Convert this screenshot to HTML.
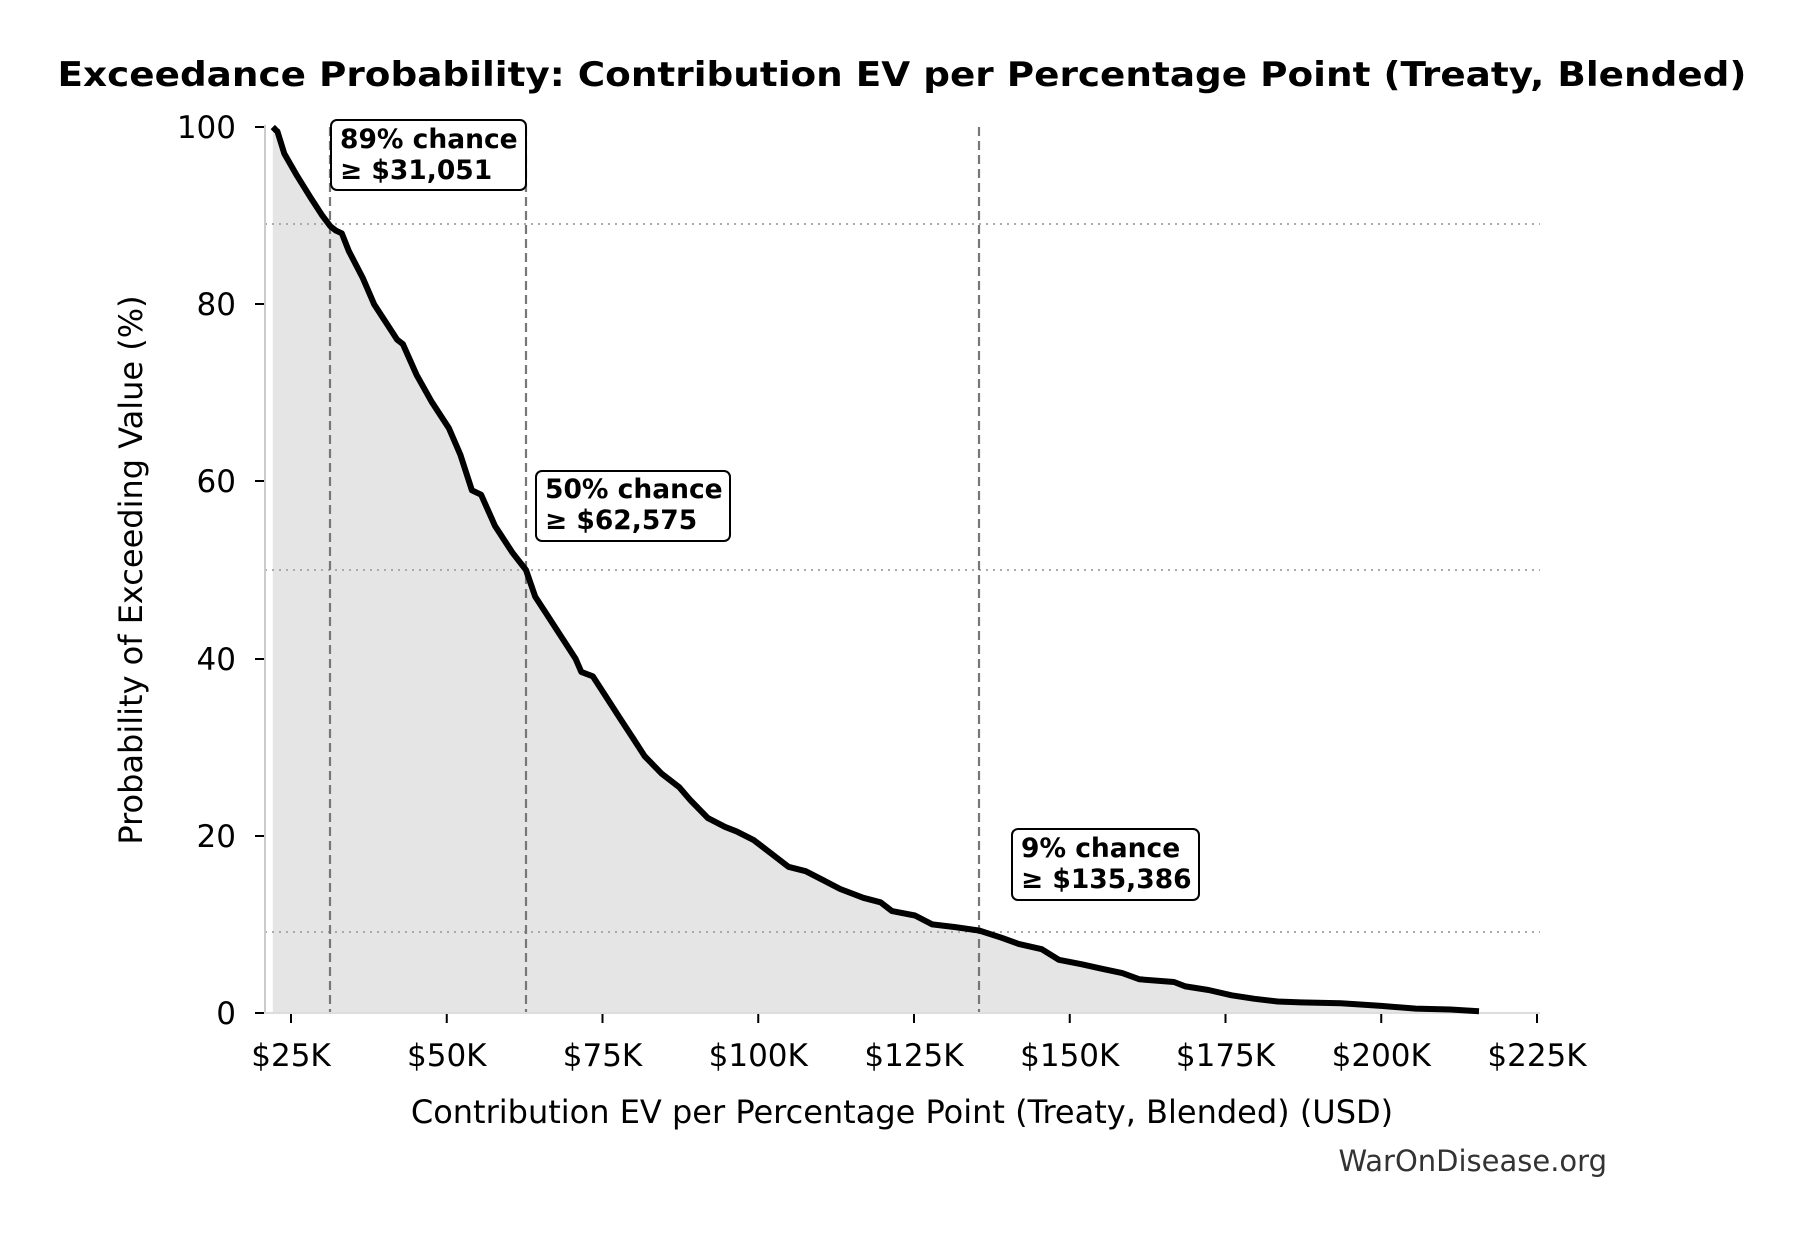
<!DOCTYPE html>
<html><head><meta charset="utf-8"><style>
html,body{margin:0;padding:0;background:#fff;}
svg{display:block;font-family:"DejaVu Sans","Liberation Sans",sans-serif;}
</style></head><body>
<svg id="s" width="1805" height="1234" viewBox="0 0 1805 1234" xmlns="http://www.w3.org/2000/svg">
<rect width="1805" height="1234" fill="#fff"/>
<text x="902" y="86" text-anchor="middle" font-size="34" font-weight="bold" textLength="1689" lengthAdjust="spacingAndGlyphs">Exceedance Probability: Contribution EV per Percentage Point (Treaty, Blended)</text>
<path id="fill" fill="#e5e5e5" d=""/>
<g stroke="#aaa" stroke-width="2" stroke-dasharray="2,5">
<line x1="265" y1="224" x2="1540" y2="224"/>
<line x1="265" y1="570" x2="1540" y2="570"/>
<line x1="265" y1="932" x2="1540" y2="932"/>
</g>
<g stroke="#777" stroke-width="2.2" stroke-dasharray="9,5">
<line x1="330" y1="127" x2="330" y2="1013"/>
<line x1="526" y1="127" x2="526" y2="1013"/>
<line x1="979" y1="127" x2="979" y2="1013"/>
</g>
<line x1="265" y1="125" x2="265" y2="1014" stroke="#ccc" stroke-width="2"/>
<line x1="264" y1="1013" x2="1540" y2="1013" stroke="#ddd" stroke-width="2"/>
<path id="curve" fill="none" stroke="#000" stroke-width="6" stroke-linejoin="round" d=""/>
<g font-size="31" text-anchor="end">
<text x="236" y="138">100</text><text x="236" y="315">80</text><text x="236" y="492">60</text>
<text x="236" y="670">40</text><text x="236" y="847">20</text><text x="236" y="1024">0</text>
</g>
<g stroke="#000" stroke-width="2">
<line x1="255" y1="127" x2="264" y2="127"/><line x1="255" y1="304" x2="264" y2="304"/>
<line x1="255" y1="481" x2="264" y2="481"/><line x1="255" y1="659" x2="264" y2="659"/>
<line x1="255" y1="836" x2="264" y2="836"/><line x1="255" y1="1013" x2="264" y2="1013"/>
</g>
<g id="xt" font-size="31" text-anchor="middle"></g>
<text x="902" y="1123" text-anchor="middle" font-size="32">Contribution EV per Percentage Point (Treaty, Blended) (USD)</text>
<text transform="translate(142,570) rotate(-90)" text-anchor="middle" font-size="32">Probability of Exceeding Value (%)</text>
<text x="1607" y="1171" text-anchor="end" font-size="29" fill="#333">WarOnDisease.org</text>
<g font-size="26.5" font-weight="bold">
<rect x="331" y="120" width="195" height="70" rx="6" fill="#fff" stroke="#000" stroke-width="2"/>
<text x="340" y="148">89% chance</text><text x="340" y="179">≥ $31,051</text>
<rect x="536" y="471" width="194" height="70" rx="6" fill="#fff" stroke="#000" stroke-width="2"/>
<text x="545" y="498">50% chance</text><text x="545" y="529">≥ $62,575</text>
<rect x="1012" y="829" width="187" height="71" rx="6" fill="#fff" stroke="#000" stroke-width="2"/>
<text x="1021" y="857">9% chance</text><text x="1021" y="888">≥ $135,386</text>
</g>
</svg>
<script>
var pts=[[237,100],[240,99.6],[241,99.5],[247,97],[258,94.5],[270,92],[280,90],[287,88.8],[292,88.3],[297,88],[303,86],[315,83],[325,80],[335,78],[345,76],[350,75.5],[362,72],[375,69],[390,66],[400,63],[410,59],[418,58.5],[430,55],[445,52],[457,50],[465,47],[475,45],[490,42],[500,40],[505,38.5],[515,38],[525,36],[540,33],[550,31],[560,29],[575,27],[590,25.5],[600,24],[615,22],[630,21],[640,20.5],[655,19.5],[670,18],[685,16.5],[700,16],[715,15],[730,14],[750,13],[765,12.5],[775,11.5],[795,11],[810,10],[830,9.7],[851,9.3],[870,8.5],[885,7.8],[905,7.2],[920,6],[940,5.5],[957,5],[975,4.5],[990,3.8],[1020,3.5],[1030,3],[1050,2.6],[1070,2],[1090,1.6],[1110,1.3],[1130,1.2],[1165,1.1],[1200,0.8],[1230,0.5],[1260,0.4],[1285,0.2]];
var d=pts.map(function(p,i){return (i?"L":"M")+(p[0]*1.151).toFixed(1)+","+(1013-p[1]*8.86).toFixed(1);}).join(" ");
document.getElementById("curve").setAttribute("d",d);
document.getElementById("fill").setAttribute("d",d+" L"+(1285*1.151).toFixed(1)+",1013 L"+(237*1.151).toFixed(1)+",1013 Z");
var g=document.getElementById("xt"),ns="http://www.w3.org/2000/svg",labs=["$25K","$50K","$75K","$100K","$125K","$150K","$175K","$200K","$225K"];
for(var i=0;i<9;i++){var x=291+i*155.75;var l=document.createElementNS(ns,"line");l.setAttribute("x1",x);l.setAttribute("x2",x);l.setAttribute("y1",1014);l.setAttribute("y2",1023);l.setAttribute("stroke","#000");l.setAttribute("stroke-width","2");g.appendChild(l);
var t=document.createElementNS(ns,"text");t.setAttribute("x",x);t.setAttribute("y",1066);t.textContent=labs[i];g.appendChild(t);}
</script>
</body></html>
